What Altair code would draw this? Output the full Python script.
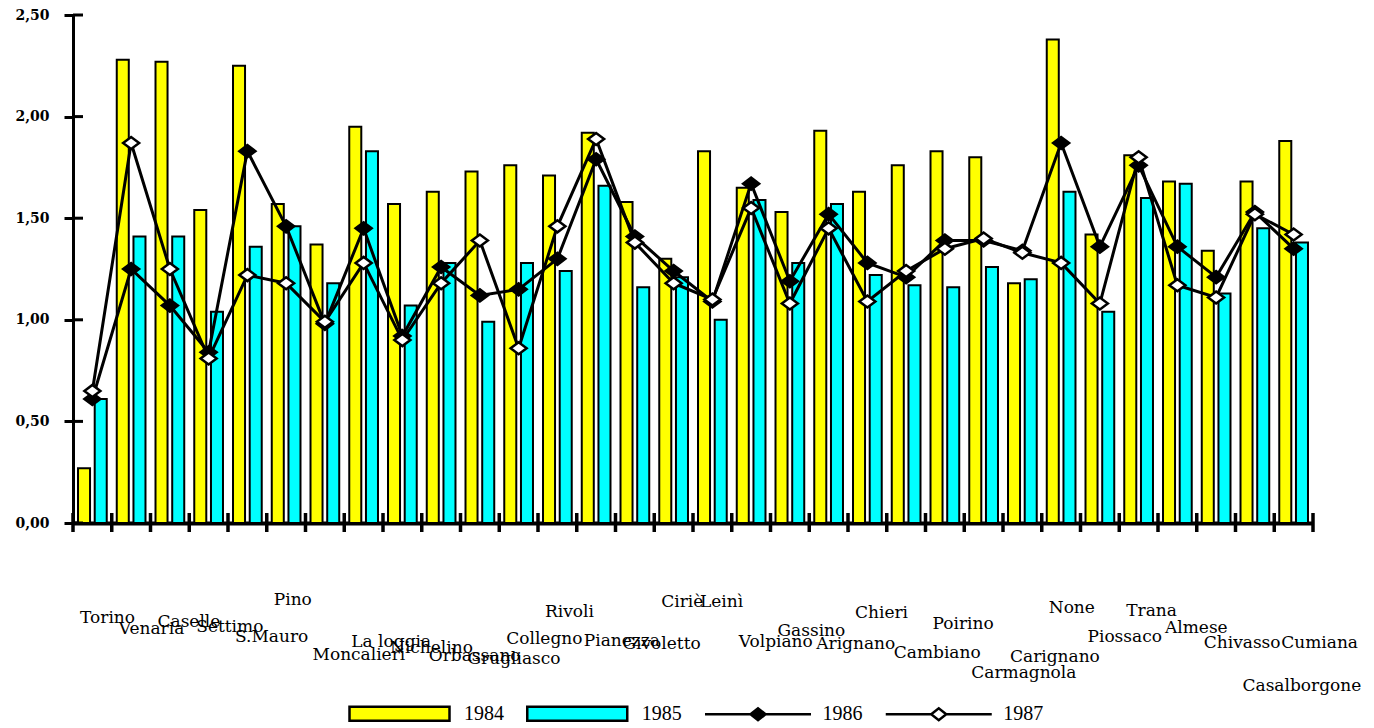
import altair as alt
import pandas as pd

# Towns in display order
towns = [
    "Torino", "Venaria", "Caselle", "Settimo", "S.Mauro", "Pino", "Moncalieri",
    "La loggia", "Nichelino", "Orbassano", "Grugliasco", "Collegno", "Rivoli",
    "Pianezza", "Givoletto", "Ciriè", "Leinì", "Volpiano", "Gassino", "Arignano",
    "Chieri", "Cambiano", "Poirino", "Carmagnola", "Carignano", "None",
    "Piossaco", "Trana", "Almese", "Chivasso", "Casalborgone", "Cumiana",
]

years = ["1984", "1985", "1986", "1987"]

# Yearly values per town
v1984 = [0.27, 2.28, 2.27, 1.54, 2.25, 1.57, 1.37, 1.95, 1.57, 1.63, 1.73, 1.76,
         1.71, 1.92, 1.58, 1.30, 1.83, 1.65, 1.53, 1.93, 1.63, 1.76, 1.83, 1.80,
         1.18, 2.38, 1.42, 1.81, 1.68, 1.34, 1.68, 1.88]
v1985 = [0.61, 1.41, 1.41, 1.04, 1.36, 1.46, 1.18, 1.83, 1.07, 1.28, 0.99, 1.28,
         1.24, 1.66, 1.16, 1.21, 1.00, 1.59, 1.28, 1.57, 1.22, 1.17, 1.16, 1.26,
         1.20, 1.63, 1.04, 1.60, 1.67, 1.13, 1.45, 1.38]
v1986 = [0.61, 1.25, 1.07, 0.84, 1.83, 1.46, 0.98, 1.45, 0.92, 1.26, 1.12, 1.15,
         1.30, 1.79, 1.41, 1.24, 1.09, 1.67, 1.19, 1.52, 1.28, 1.21, 1.39, 1.39,
         1.34, 1.87, 1.36, 1.76, 1.36, 1.21, 1.53, 1.35]
v1987 = [0.65, 1.87, 1.25, 0.81, 1.22, 1.18, 0.99, 1.28, 0.90, 1.18, 1.39, 0.86,
         1.46, 1.89, 1.38, 1.18, 1.10, 1.55, 1.08, 1.45, 1.09, 1.24, 1.35, 1.40,
         1.33, 1.28, 1.08, 1.80, 1.17, 1.11, 1.52, 1.42]

# Staggered placement of the town names: pixels below the x axis
label_drop = [95, 106, 99, 104, 114, 77, 132, 119, 125, 133, 136, 116,
              89, 118, 121, 79, 79, 119, 108, 121, 90, 130, 101, 150,
              134, 85, 114, 88, 105, 120, 163, 120]

y_ticks = [0, 0.5, 1.0, 1.5, 2.0, 2.5]

rows = []
for i, town in enumerate(towns):
    for year, vals in zip(years, [v1984, v1985, v1986, v1987]):
        rows.append({"town": town, "year": year, "value": vals[i]})
df = pd.DataFrame(rows)
bars_df = df[df["year"].isin(["1984", "1985"])]
lines_df = df[df["year"].isin(["1986", "1987"])]
labels_df = pd.DataFrame({"town": towns, "drop": label_drop})
ticks_df = pd.DataFrame({"t": y_ticks})
towns_df = pd.DataFrame({"town": towns})

W, H = 1240, 508

x_scale = alt.Scale(domain=towns, paddingInner=0, paddingOuter=0)
y_scale = alt.Scale(domain=[0, 2.5], nice=False, zero=True)
fill_scale = alt.Scale(domain=years, range=["#ffff00", "#00ffff", "#000000", "#ffffff"])

RECT = "M-1,-0.14L1,-0.14L1,0.14L-1,0.14Z"
LINE_DIAMOND = "M-1.06,0L-0.15,0M0.15,0L1.06,0M-0.15,0L0,-0.12L0.15,0L0,0.12Z"
DIAMOND = "M-1,0L0,-0.75L1,0L0,0.75Z"
shape_scale = alt.Scale(domain=years, range=[RECT, RECT, LINE_DIAMOND, LINE_DIAMOND])

legend = alt.Legend(
    title=None, orient="none", legendX=275, legendY=647, direction="horizontal",
    columns=4, symbolSize=10000, symbolStrokeColor="black", symbolStrokeWidth=2.5,
    labelFont="Liberation Serif", labelFontSize=20, labelColor="black",
    labelOffset=13, columnPadding=17.75, padding=0,
)

x_axis = alt.Axis(labels=False, ticks=False, domain=True, domainColor="black",
                  domainWidth=4, grid=False, title=None)
y_axis = alt.Axis(
    values=y_ticks,
    labelExpr="replace(format(datum.value, '.2f'), '.', ',')",
    labelFont="DejaVu Serif", labelFontWeight="bold", labelFontSize=14,
    labelColor="black", labelPadding=15, tickSize=9, tickWidth=3,
    tickColor="black", domainWidth=3, domainColor="black", grid=False, title=None,
)

x_enc = alt.X("town:N", scale=x_scale, axis=x_axis)
y_enc = alt.Y("value:Q", scale=y_scale, axis=y_axis)

bars = alt.Chart(bars_df).mark_bar(stroke="black", strokeWidth=2).encode(
    x=x_enc,
    xOffset=alt.XOffset("year:N", scale=alt.Scale(domain=["1984", "1985"],
                                                   paddingInner=0.28, paddingOuter=0.30)),
    y=y_enc,
    fill=alt.Fill("year:N", scale=fill_scale, legend=legend),
)

lines = alt.Chart(lines_df).mark_line(color="black", strokeWidth=3).encode(
    x=alt.X("town:N", scale=x_scale, bandPosition=0.5),
    y=alt.Y("value:Q", scale=y_scale),
    detail="year:N",
)

points = alt.Chart(lines_df).mark_point(
    filled=True, shape=DIAMOND, size=256, stroke="black", strokeWidth=2.5, opacity=1
).encode(
    x=alt.X("town:N", scale=x_scale, bandPosition=0.5),
    y=alt.Y("value:Q", scale=y_scale),
    fill=alt.Fill("year:N", scale=fill_scale, legend=legend),
)

# carries the legend key shapes (bar swatches and line-with-marker keys)
legend_keys = alt.Chart(lines_df).transform_filter("false").mark_point().encode(
    x=alt.X("town:N", scale=x_scale),
    y=alt.Y("value:Q", scale=y_scale),
    fill=alt.Fill("year:N", scale=fill_scale, legend=legend),
    shape=alt.Shape("year:N", scale=shape_scale, legend=legend),
)

# inner half of the y ticks (they cross the axis line)
ytick_in = alt.Chart(ticks_df).mark_rule(color="black", strokeWidth=3).encode(
    y=alt.Y("t:Q", scale=y_scale), x=alt.value(0), x2=alt.value(10)
)

# x ticks at category boundaries, crossing the axis line
xticks = alt.Chart(towns_df).mark_rule(color="black", strokeWidth=3.5).encode(
    x=alt.X("town:N", scale=x_scale, bandPosition=0),
    y=alt.value(H - 10), y2=alt.value(H + 9),
)
xtick_end = alt.Chart(towns_df).transform_filter(
    alt.datum.town == towns[-1]
).mark_rule(color="black", strokeWidth=3.5).encode(
    x=alt.X("town:N", scale=x_scale, bandPosition=1),
    y=alt.value(H - 10), y2=alt.value(H + 9),
)

main = alt.layer(bars, ytick_in, xticks, xtick_end, lines, points, legend_keys)

labels = alt.Chart(labels_df).mark_text(
    align="left", baseline="middle", dx=7, font="DejaVu Serif", fontSize=17, color="black"
).encode(
    x=alt.X("town:N", scale=x_scale, bandPosition=0),
    y=alt.Y("drop:Q", scale=alt.Scale(domain=[0, 205], range=[H, H + 205]), axis=None),
    text="town:N",
)

chart = alt.layer(main, labels).resolve_scale(y="independent").properties(
    width=W, height=H,
    padding={"left": 73, "top": 15, "right": 61, "bottom": 205},
    autosize=alt.AutoSizeParams(type="none"),
).configure_view(stroke="transparent")

chart.save("out.html", embed_options={"renderer": "svg", "actions": False})
